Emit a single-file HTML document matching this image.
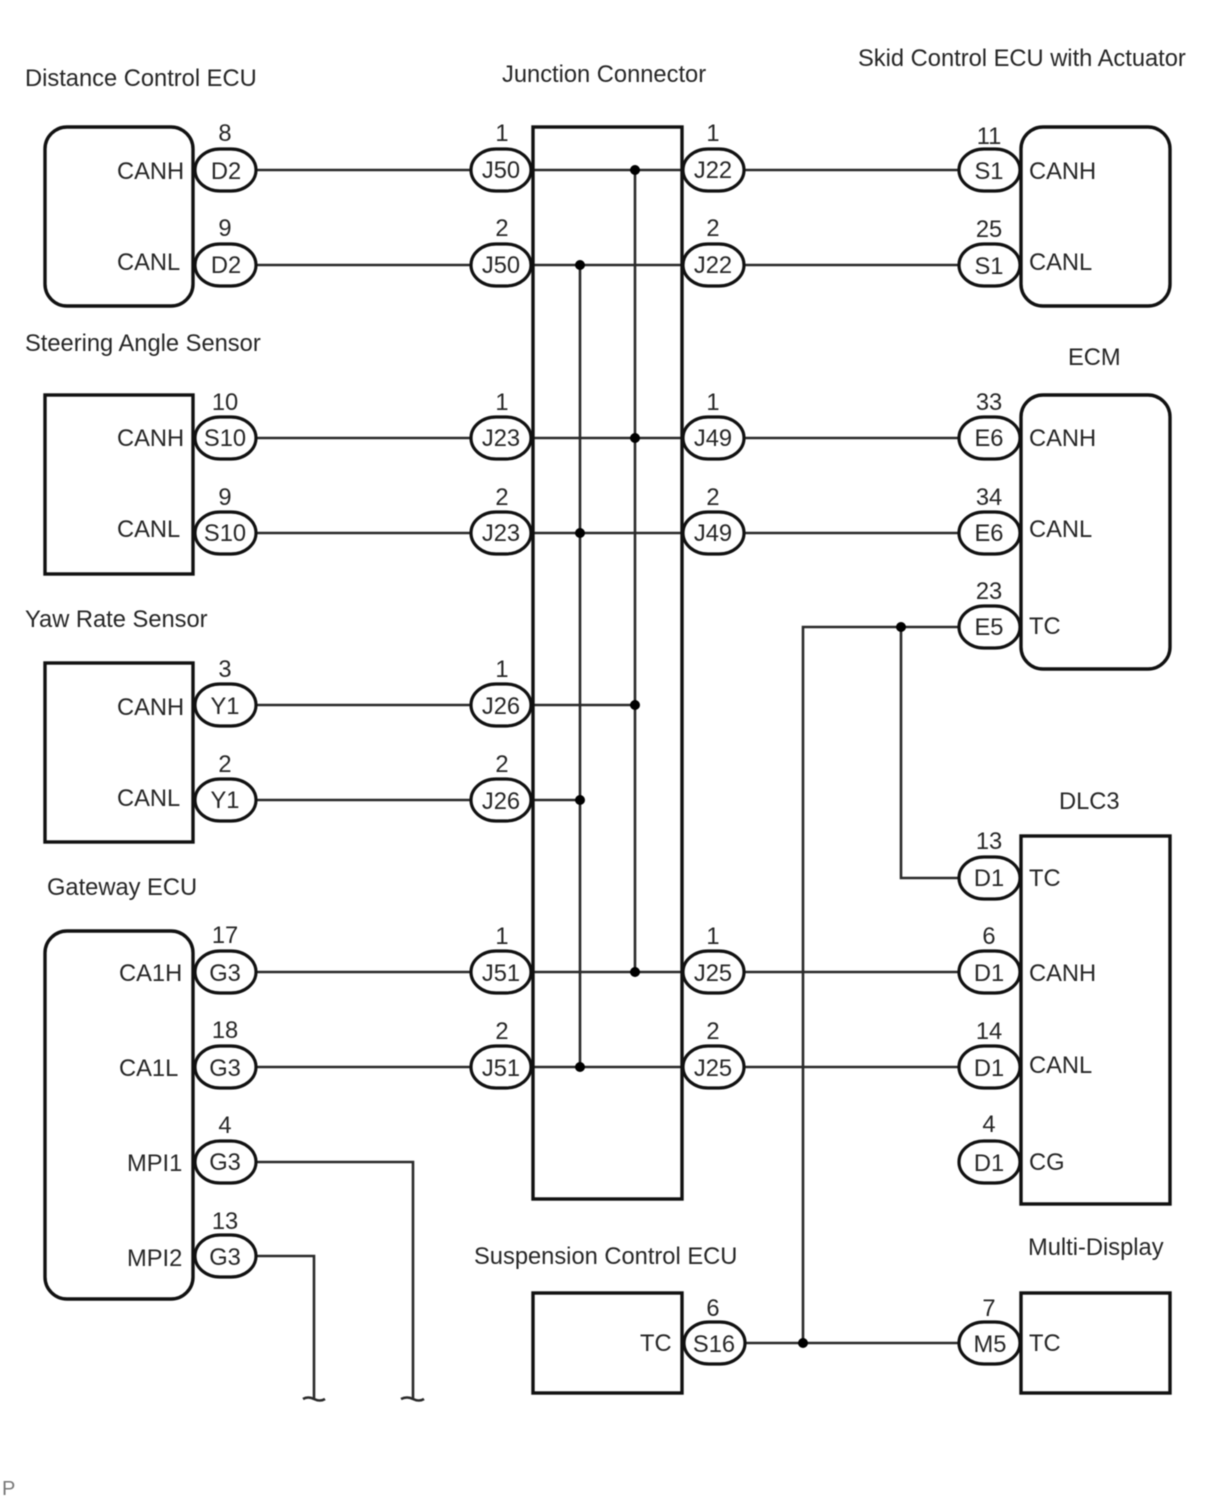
<!DOCTYPE html>
<html lang="en">
<head>
<meta charset="utf-8">
<title>CAN wiring diagram</title>
<style>
html,body{margin:0;padding:0;background:#fff}
svg{display:block;filter:blur(.45px)}
text{font-family:"Liberation Sans",Arial,sans-serif;font-size:23.7px;fill:#262626}
.m{text-anchor:middle}
.b{fill:none;stroke:#111;stroke-width:3.4}
.p{fill:#fff;stroke:#111;stroke-width:3.2}
.w{fill:none;stroke:#2a2a2a;stroke-width:2.6}
</style>
</head>
<body>
<svg width="1210" height="1498" viewBox="0 0 1210 1498" xmlns="http://www.w3.org/2000/svg">
<!-- wires -->
<path class="w" d="M256 170H471M531 170H683M744 170H959"/>
<path class="w" d="M256 265H471M531 265H683M744 265H959"/>
<path class="w" d="M256 438H471M531 438H683M744 438H959"/>
<path class="w" d="M256 533H471M531 533H683M744 533H959"/>
<path class="w" d="M256 705H471M531 705H635"/>
<path class="w" d="M256 800H471M531 800H580"/>
<path class="w" d="M256 972H471M531 972H683M744 972H959"/>
<path class="w" d="M256 1067H471M531 1067H683M744 1067H959"/>
<path class="w" d="M635 170V972M580 265V1067"/>
<path class="w" d="M959 627H803V1343M901 627V878H959M744 1343H959"/>
<path class="w" d="M257 1162H413V1398M257 1256H314V1398"/>
<path class="w" d="M303 1399q5 -3 11 0t11 0M401 1399q6 -3 12 0t11 0"/>
<!-- dots -->
<g fill="#000">
<circle cx="635" cy="170" r="5"/><circle cx="580" cy="265" r="5"/>
<circle cx="635" cy="438" r="5"/><circle cx="580" cy="533" r="5"/>
<circle cx="635" cy="705" r="5"/><circle cx="580" cy="800" r="5"/>
<circle cx="635" cy="972" r="5"/><circle cx="580" cy="1067" r="5"/>
<circle cx="901" cy="627" r="5"/><circle cx="803" cy="1343" r="5"/>
</g>
<!-- boxes -->
<rect class="b" x="45" y="127" width="148" height="179" rx="22"/>
<rect class="b" x="45" y="395" width="148" height="179"/>
<rect class="b" x="45" y="663" width="148" height="179"/>
<rect class="b" x="45" y="931" width="148" height="368" rx="22"/>
<rect class="b" x="533" y="127" width="149" height="1072"/>
<rect class="b" x="1021" y="127" width="149" height="179" rx="22"/>
<rect class="b" x="1021" y="395" width="149" height="274" rx="22"/>
<rect class="b" x="1021" y="836" width="149" height="368"/>
<rect class="b" x="533" y="1293" width="149" height="100"/>
<rect class="b" x="1021" y="1293" width="149" height="100"/>
<!-- pills -->
<rect class="p" x="195" y="149" width="61" height="42" rx="25" ry="21"/>
<rect class="p" x="195" y="244" width="61" height="42" rx="25" ry="21"/>
<rect class="p" x="195" y="417" width="61" height="42" rx="25" ry="21"/>
<rect class="p" x="195" y="512" width="61" height="42" rx="25" ry="21"/>
<rect class="p" x="195" y="684" width="61" height="42" rx="25" ry="21"/>
<rect class="p" x="195" y="779" width="61" height="42" rx="25" ry="21"/>
<rect class="p" x="195" y="951" width="61" height="42" rx="25" ry="21"/>
<rect class="p" x="195" y="1046" width="61" height="42" rx="25" ry="21"/>
<rect class="p" x="195" y="1141" width="61" height="42" rx="25" ry="21"/>
<rect class="p" x="195" y="1235" width="61" height="42" rx="25" ry="21"/>
<rect class="p" x="471" y="149" width="60" height="42" rx="25" ry="21"/>
<rect class="p" x="471" y="244" width="60" height="42" rx="25" ry="21"/>
<rect class="p" x="471" y="417" width="60" height="42" rx="25" ry="21"/>
<rect class="p" x="471" y="512" width="60" height="42" rx="25" ry="21"/>
<rect class="p" x="471" y="684" width="60" height="42" rx="25" ry="21"/>
<rect class="p" x="471" y="779" width="60" height="42" rx="25" ry="21"/>
<rect class="p" x="471" y="951" width="60" height="42" rx="25" ry="21"/>
<rect class="p" x="471" y="1046" width="60" height="42" rx="25" ry="21"/>
<rect class="p" x="683" y="149" width="61" height="42" rx="25" ry="21"/>
<rect class="p" x="683" y="244" width="61" height="42" rx="25" ry="21"/>
<rect class="p" x="683" y="417" width="61" height="42" rx="25" ry="21"/>
<rect class="p" x="683" y="512" width="61" height="42" rx="25" ry="21"/>
<rect class="p" x="683" y="951" width="61" height="42" rx="25" ry="21"/>
<rect class="p" x="683" y="1046" width="61" height="42" rx="25" ry="21"/>
<rect class="p" x="684" y="1322" width="61" height="42" rx="25" ry="21"/>
<rect class="p" x="959" y="149" width="61" height="42" rx="25" ry="21"/>
<rect class="p" x="959" y="244" width="61" height="42" rx="25" ry="21"/>
<rect class="p" x="959" y="417" width="61" height="42" rx="25" ry="21"/>
<rect class="p" x="959" y="512" width="61" height="42" rx="25" ry="21"/>
<rect class="p" x="959" y="606" width="61" height="42" rx="25" ry="21"/>
<rect class="p" x="959" y="857" width="61" height="42" rx="25" ry="21"/>
<rect class="p" x="959" y="951" width="61" height="42" rx="25" ry="21"/>
<rect class="p" x="959" y="1046" width="61" height="42" rx="25" ry="21"/>
<rect class="p" x="959" y="1141" width="61" height="42" rx="25" ry="21"/>
<rect class="p" x="959" y="1322" width="61" height="42" rx="25" ry="21"/>
<!-- titles -->
<text x="25" y="86">Distance Control ECU</text>
<text x="502" y="82">Junction Connector</text>
<text x="858" y="66">Skid Control ECU with Actuator</text>
<text x="25" y="351">Steering Angle Sensor</text>
<text x="1068" y="365">ECM</text>
<text x="25" y="627">Yaw Rate Sensor</text>
<text x="1059" y="809">DLC3</text>
<text x="47" y="895">Gateway ECU</text>
<text x="474" y="1264">Suspension Control ECU</text>
<text x="1028" y="1255">Multi-Display</text>
<text x="2" y="1495" style="font-size:20px;fill:#777">P</text>
<!-- pin names -->
<text x="117" y="179">CANH</text><text x="117" y="270">CANL</text>
<text x="117" y="446">CANH</text><text x="117" y="537">CANL</text>
<text x="117" y="715">CANH</text><text x="117" y="806">CANL</text>
<text x="119" y="981">CA1H</text><text x="119" y="1076">CA1L</text>
<text x="127" y="1171">MPI1</text><text x="127" y="1266">MPI2</text>
<text x="640" y="1351">TC</text>
<text x="1029" y="179">CANH</text><text x="1029" y="270">CANL</text>
<text x="1029" y="446">CANH</text><text x="1029" y="537">CANL</text>
<text x="1029" y="634">TC</text>
<text x="1029" y="886">TC</text><text x="1029" y="981">CANH</text>
<text x="1029" y="1073">CANL</text><text x="1029" y="1170">CG</text>
<text x="1029" y="1351">TC</text>
<!-- pin numbers -->
<text class="m" x="225" y="141">8</text><text class="m" x="225" y="236">9</text>
<text class="m" x="225" y="410">10</text><text class="m" x="225" y="505">9</text>
<text class="m" x="225" y="677">3</text><text class="m" x="225" y="772">2</text>
<text class="m" x="225" y="943">17</text><text class="m" x="225" y="1038">18</text>
<text class="m" x="225" y="1133">4</text><text class="m" x="225" y="1229">13</text>
<text class="m" x="502" y="141">1</text><text class="m" x="502" y="236">2</text>
<text class="m" x="502" y="410">1</text><text class="m" x="502" y="505">2</text>
<text class="m" x="502" y="677">1</text><text class="m" x="502" y="772">2</text>
<text class="m" x="502" y="944">1</text><text class="m" x="502" y="1039">2</text>
<text class="m" x="713" y="141">1</text><text class="m" x="713" y="236">2</text>
<text class="m" x="713" y="410">1</text><text class="m" x="713" y="505">2</text>
<text class="m" x="713" y="944">1</text><text class="m" x="713" y="1039">2</text>
<text class="m" x="713" y="1316">6</text>
<text class="m" x="989" y="144">11</text><text class="m" x="989" y="237">25</text>
<text class="m" x="989" y="410">33</text><text class="m" x="989" y="505">34</text>
<text class="m" x="989" y="599">23</text><text class="m" x="989" y="849">13</text>
<text class="m" x="989" y="944">6</text><text class="m" x="989" y="1039">14</text>
<text class="m" x="989" y="1132">4</text><text class="m" x="989" y="1316">7</text>
<!-- connector codes -->
<text class="m" x="226" y="179">D2</text><text class="m" x="226" y="273">D2</text>
<text class="m" x="225" y="446">S10</text><text class="m" x="225" y="541">S10</text>
<text class="m" x="225" y="714">Y1</text><text class="m" x="225" y="808">Y1</text>
<text class="m" x="225" y="981">G3</text><text class="m" x="225" y="1076">G3</text>
<text class="m" x="225" y="1170">G3</text><text class="m" x="225" y="1265">G3</text>
<text class="m" x="501" y="178">J50</text><text class="m" x="501" y="273">J50</text>
<text class="m" x="501" y="446">J23</text><text class="m" x="501" y="541">J23</text>
<text class="m" x="501" y="714">J26</text><text class="m" x="501" y="809">J26</text>
<text class="m" x="501" y="981">J51</text><text class="m" x="501" y="1076">J51</text>
<text class="m" x="713" y="178">J22</text><text class="m" x="713" y="273">J22</text>
<text class="m" x="713" y="446">J49</text><text class="m" x="713" y="541">J49</text>
<text class="m" x="713" y="981">J25</text><text class="m" x="713" y="1076">J25</text>
<text class="m" x="714" y="1352">S16</text>
<text class="m" x="989" y="179">S1</text><text class="m" x="989" y="274">S1</text>
<text class="m" x="989" y="446">E6</text><text class="m" x="989" y="541">E6</text>
<text class="m" x="989" y="635">E5</text><text class="m" x="989" y="886">D1</text>
<text class="m" x="989" y="981">D1</text><text class="m" x="989" y="1076">D1</text>
<text class="m" x="989" y="1171">D1</text><text class="m" x="990" y="1352">M5</text>
</svg>
</body>
</html>
